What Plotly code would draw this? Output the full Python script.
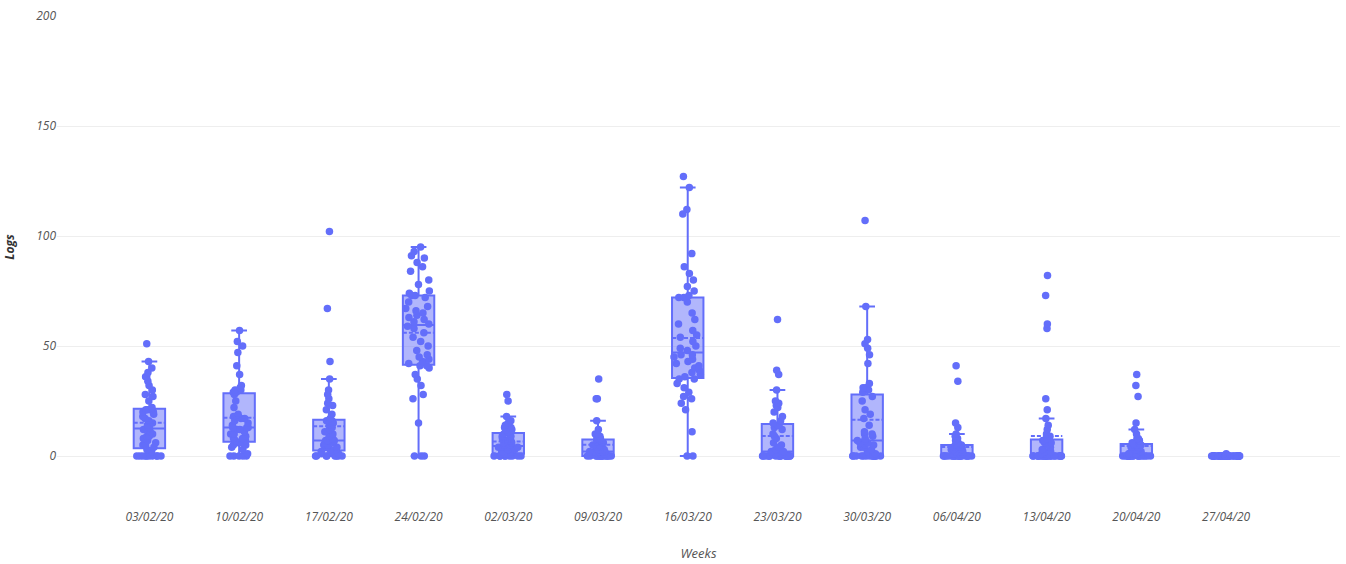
import plotly.graph_objects as go

# Week labels (x axis categories)
weeks = ["03/02/20", "10/02/20", "17/02/20", "24/02/20", "02/03/20", "09/03/20",
         "16/03/20", "23/03/20", "30/03/20", "06/04/20", "13/04/20", "20/04/20", "27/04/20"]

# Logs per user, one list per week
logs_03_02 = [0] * 10 + [2, 3, 4, 5, 5, 6, 7, 8, 9, 9, 10, 11, 12, 12, 13,
                         14, 15, 16, 17, 18, 19, 20, 20, 21, 21, 21, 22,
                         25, 27, 28, 30, 32, 34, 36, 38, 40, 43, 51]
logs_10_02 = [0] * 5 + [1, 3, 4, 5, 5, 6, 6, 7, 7, 8, 8, 9, 10, 10, 11, 12, 12, 13, 13, 13,
                        14, 15, 16, 17, 17, 18, 18, 19, 22, 25, 28, 29,
                        29, 30, 30, 31, 32, 37, 41, 47, 50, 52, 57]
logs_17_02 = [0] * 8 + [1, 1, 2, 2, 3, 3, 4, 4, 5, 5, 5, 6, 6, 7, 7, 7, 7,
                        8, 9, 10, 11, 12, 13, 14, 14, 15, 16, 16, 17,
                        19, 21, 23, 24, 26, 28, 30, 35, 43, 67, 102]
logs_24_02 = [0] * 3 + [15, 26, 28, 32, 35, 37, 40, 41, 41, 42,
                        43, 44, 45, 46, 48, 50, 52, 54, 56, 58, 59, 60,
                        61, 62, 63, 64, 65, 66, 67, 68, 70, 72, 73, 73,
                        74, 75, 78, 80, 84, 86, 88, 90, 91, 93, 95]
logs_02_03 = [0] * 9 + [1, 1, 1, 1, 2, 2, 3, 3, 3, 4, 4, 4, 4, 4, 4, 5,
                        5, 6, 6, 7, 7, 8, 8, 9, 9, 10, 10, 11,
                        11, 12, 12, 13, 13, 14, 15, 16, 18, 25, 28]
logs_09_03 = [0] * 15 + [1, 1, 1, 1, 2, 2, 2, 2, 2, 2,
                         3, 3, 3, 4, 4, 5, 5, 6, 6, 7, 7, 8,
                         8, 8, 9, 9, 10, 10, 12, 16, 26, 26, 35]
logs_16_03 = [0, 0, 11, 21, 24, 26, 27, 29, 31, 33, 35, 35, 36,
              37, 38, 39, 40, 41, 42, 43, 44, 45, 46, 46, 48,
              49, 50, 52, 54, 55, 57, 60, 62, 65, 70, 72, 72,
              73, 75, 77, 80, 83, 86, 92, 110, 112, 122, 127]
logs_23_03 = [0] * 19 + [1, 1, 1, 2, 2, 2,
                         3, 4, 5, 6, 8, 9, 10, 12, 13, 14, 14, 15,
                         16, 18, 20, 22, 23, 24, 25, 30, 37, 39, 62]
logs_30_03 = [0] * 14 + [1, 2, 3, 4, 4, 5, 5, 6, 6, 7, 7,
                         8, 9, 10, 10, 11, 14, 17, 19, 21, 25, 27, 29,
                         30, 31, 31, 33, 42, 46, 49, 51, 53, 68, 107]
logs_06_04 = [0] * 21 + [1, 1, 1, 1, 1, 2, 2, 2, 3, 3, 3, 4, 4, 4, 5, 5,
                         5, 6, 6, 7, 8, 9, 10, 13, 15, 34, 41]
logs_13_04 = [0] * 25 + [1, 1, 2, 2, 3, 4, 5, 6, 6, 7, 7, 8,
                         9, 10, 12, 14, 17, 21, 26, 58, 60, 73, 82]
logs_20_04 = [0] * 20 + [1, 1, 1, 1, 1, 1, 2, 2, 3, 3, 3, 4, 4, 5, 5, 5, 6,
                         6, 7, 7, 8, 8, 10, 12, 15, 27, 32, 37]
logs_27_04 = [0] * 47 + [1]

weekly_logs = [logs_03_02, logs_10_02, logs_17_02, logs_24_02, logs_02_03, logs_09_03,
               logs_16_03, logs_23_03, logs_30_03, logs_06_04, logs_13_04, logs_20_04,
               logs_27_04]

color = "#636efa"
font_family = "Open Sans"

x_vals, y_vals = [], []
for week, values in zip(weeks, weekly_logs):
    x_vals.extend([week] * len(values))
    y_vals.extend(values)

fig = go.Figure(
    go.Box(
        x=x_vals,
        y=y_vals,
        boxpoints="all",
        jitter=0.95,
        pointpos=0,
        boxmean=True,
        marker=dict(color=color, size=7.5),
        line=dict(color=color, width=2),
        whiskerwidth=0.5,
        showlegend=False,
    )
)

fig.update_layout(
    template="plotly_white",
    width=1346,
    height=564,
    margin=dict(l=57, r=6, t=16, b=82),
    boxgap=0.5,
    paper_bgcolor="white",
    plot_bgcolor="white",
    font=dict(family=font_family, size=12, color="#444"),
    xaxis=dict(
        type="category",
        categoryorder="array",
        categoryarray=weeks,
        range=[-1.03, 13.27],
        showgrid=False,
        zeroline=False,
        ticklabelstandoff=30,
        tickfont=dict(family=font_family, size=12, color="#555", style="italic"),
        title=dict(text="Weeks", standoff=24,
                   font=dict(family=font_family, size=13, color="#555", style="italic")),
    ),
    yaxis=dict(
        range=[-10, 200],
        tickvals=[0, 50, 100, 150, 200],
        gridcolor="#eeeeee",
        gridwidth=1,
        zeroline=True,
        zerolinecolor="#eeeeee",
        zerolinewidth=1,
        tickfont=dict(family=font_family, size=12, color="#555", style="italic"),
        title=dict(text="Logs", standoff=18,
                   font=dict(family=font_family, size=12, color="#333",
                             style="italic", weight="bold")),
    ),
)

fig.write_html("out.html")
